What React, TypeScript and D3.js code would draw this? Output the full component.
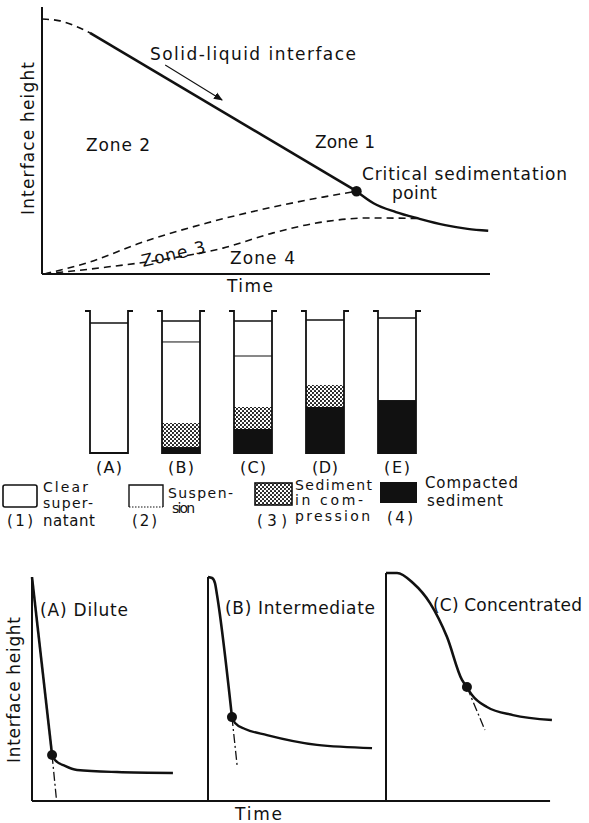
import React from 'react';
import * as d3 from 'd3';

const W = 589;
const H = 823;

// ---------- Top chart (schematic units: time 0–100, height 0–100) ----------
const initialRise: [number, number][] = [[0, 95.5], [4.0, 94.8], [7.4, 92.9], [10.7, 90.3]];
const constantRate: [number, number][] = [[10.7, 90.3], [70.2, 31.0]];
const compressionCurve: [number, number][] = [[70.2, 31.0], [74, 26.5], [79, 23.2], [84, 20.8], [90, 18.3], [95, 16.9], [99.6, 16.2]];
const zone23Boundary: [number, number][] = [[0.5, 0], [10.7, 4.5], [21.9, 11.6], [36.8, 19.1], [51.6, 25.1], [62.7, 28.8], [70.2, 31.0]];
const zone34Boundary: [number, number][] = [[0.5, 0], [14.5, 2.6], [29.2, 6.0], [40.4, 9.7], [51.6, 15.4], [62.7, 19.5], [73.2, 21.0], [84, 20.8]];
const criticalPoint: [number, number] = [70.2, 31.0];
const arrowFrom: [number, number] = [27.5, 78.3];
const arrowTo: [number, number] = [40.2, 65.2];

// ---------- Tubes (height from bottom, 0–100) ----------
const tubeNames = ['(A)', '(B)', '(C)', '(D)', '(E)'];
const liquidLevel = [91.5, 93, 93, 93.7, 95.1];
const suspensionTop: (number | null)[] = [null, 78.2, 68.3, null, null];
const compressionTop = [0, 21.1, 32.4, 47.9, 37.3];
const compactedTop = [0, 4.2, 16.9, 32.4, 37.3];

// ---------- Bottom panels ----------
const panelNames = ['(A) Dilute', '(B) Intermediate', '(C) Concentrated'];
const panelAxisTop = [98.2, 98.2, 100];
const panelBefore: [number, number][][] = [
  [[0, 98.2], [11.8, 20.2]],
  [[0, 98.2], [2.4, 97.8], [4.1, 95.6], [5.3, 90.4], [14.1, 36.8]],
  [[0, 100], [6.5, 100], [15.9, 95.6], [25.9, 86.8], [35.9, 71.9], [44.7, 53.1], [47.6, 50]],
];
const panelTangent: [number, number][][] = [
  [[11.8, 20.2], [14.4, 0.5]],
  [[14.1, 36.8], [17.1, 15.8]],
  [[47.6, 50], [58.2, 31.1]],
];
const panelAfter: [number, number][][] = [
  [[11.8, 20.2], [13.5, 18], [19.4, 15.4], [26.5, 13.6], [50, 12.7], [82.9, 12.3]],
  [[14.1, 36.8], [15.9, 34.2], [21.8, 31.6], [34.7, 28.9], [64.1, 24.6], [96.5, 23.2]],
  [[47.6, 50], [50.6, 46.5], [59.4, 41.2], [74.7, 37.7], [97.6, 35.5]],
];
const panelPoint: [number, number][] = [[11.8, 20.2], [14.1, 36.8], [47.6, 50]];

const INK = '#111';
const FONT = 'DejaVu Sans';

export default function App() {
  // top scales
  const tx = d3.scaleLinear().domain([0, 100]).range([42, 490]);
  const ty = d3.scaleLinear().domain([0, 100]).range([274, 7]);
  const topLine = d3.line<[number, number]>().x(d => tx(d[0])).y(d => ty(d[1])).curve(d3.curveMonotoneX);

  // tube scales
  const tubeX = d3.scalePoint<string>().domain(tubeNames).range([109, 397]);
  const tubeY = d3.scaleLinear().domain([0, 100]).range([453, 311]);
  const tubeHalf = 19;

  // bottom scales
  const panelX0 = [32, 208, 386];
  const pxs = panelX0.map(x0 => d3.scaleLinear().domain([0, 100]).range([x0, x0 + 170]));
  const py = d3.scaleLinear().domain([0, 100]).range([801, 573]);

  const textStyle: React.CSSProperties = { fontFamily: FONT, fill: INK };
  const LF = 14;

  return (
    <svg width={W} height={H} viewBox={`0 0 ${W} ${H}`} style={{ position: 'absolute', left: 0, top: 0, background: '#fff' }}>
      <defs>
        <pattern id="stipple" patternUnits="userSpaceOnUse" width="4" height="4">
          <rect width="4" height="4" fill="#fff" />
          <circle cx="1" cy="1" r="1.05" fill={INK} />
          <circle cx="3" cy="3" r="1.05" fill={INK} />
        </pattern>
        <marker id="arrow" viewBox="0 0 10 10" refX="9" refY="5" markerWidth="9" markerHeight="9" orient="auto" markerUnits="userSpaceOnUse">
          <path d="M0,1 L10,5 L0,9 Z" fill={INK} />
        </marker>
      </defs>
      <rect width={W} height={H} fill="#fff" />

      {/* ---------------- Top chart ---------------- */}
      <line x1={tx(0)} y1={ty(100)} x2={tx(0)} y2={ty(0)} stroke={INK} strokeWidth={2} />
      <line x1={tx(0)} y1={ty(0)} x2={tx(100)} y2={ty(0)} stroke={INK} strokeWidth={2} />

      <path d={topLine(initialRise) || ''} fill="none" stroke={INK} strokeWidth={1.6} strokeDasharray="7 5" />
      <path d={topLine(constantRate) || ''} fill="none" stroke={INK} strokeWidth={2.6} />
      <path d={topLine(compressionCurve) || ''} fill="none" stroke={INK} strokeWidth={2.4} />
      <path d={topLine(zone23Boundary) || ''} fill="none" stroke={INK} strokeWidth={1.6} strokeDasharray="7 5" />
      <path d={topLine(zone34Boundary) || ''} fill="none" stroke={INK} strokeWidth={1.6} strokeDasharray="7 5" />
      <circle cx={tx(criticalPoint[0])} cy={ty(criticalPoint[1])} r={5.2} fill={INK} />
      <line x1={tx(arrowFrom[0])} y1={ty(arrowFrom[1])} x2={tx(arrowTo[0])} y2={ty(arrowTo[1])} stroke={INK} strokeWidth={1.1} markerEnd="url(#arrow)" />

      <text x={150} y={60} fontSize={17} textLength={206} lengthAdjust="spacing" style={textStyle}>Solid-liquid interface</text>
      <text x={86} y={151} fontSize={17} textLength={64} lengthAdjust="spacing" style={textStyle}>Zone 2</text>
      <text x={315} y={148} fontSize={17} textLength={60} lengthAdjust="spacing" style={textStyle}>Zone 1</text>
      <text x={362} y={180} fontSize={17} textLength={205} lengthAdjust="spacing" style={textStyle}>Critical sedimentation</text>
      <text x={392} y={199} fontSize={17} textLength={45} lengthAdjust="spacing" style={textStyle}>point</text>
      <text transform="translate(143,267) rotate(-13)" fontSize={17} textLength={65} lengthAdjust="spacing" style={textStyle}>Zone 3</text>
      <text x={230} y={264} fontSize={17} textLength={65} lengthAdjust="spacing" style={textStyle}>Zone 4</text>
      <text transform="translate(34,215) rotate(-90)" fontSize={17} textLength={153} lengthAdjust="spacing" style={textStyle}>Interface height</text>
      <text x={227} y={292} fontSize={17} textLength={46} lengthAdjust="spacing" style={textStyle}>Time</text>

      {/* ---------------- Tubes ---------------- */}
      {tubeNames.map((name, i) => {
        const cx = tubeX(name) as number;
        const l = cx - tubeHalf;
        const r = cx + tubeHalf;
        const top = tubeY(100);
        const bot = tubeY(0);
        return (
          <g key={name}>
            {compressionTop[i] > compactedTop[i] && (
              <rect x={l} y={tubeY(compressionTop[i])} width={r - l} height={tubeY(compactedTop[i]) - tubeY(compressionTop[i])} fill="url(#stipple)" />
            )}
            {compactedTop[i] > 0 && (
              <rect x={l} y={tubeY(compactedTop[i])} width={r - l} height={bot - tubeY(compactedTop[i])} fill={INK} />
            )}
            <path d={`M${l - 5},${top} L${l},${top} L${l},${bot} L${r},${bot} L${r},${top} L${r + 5},${top}`} fill="none" stroke={INK} strokeWidth={1.8} />
            <line x1={l} x2={r} y1={tubeY(liquidLevel[i])} y2={tubeY(liquidLevel[i])} stroke={INK} strokeWidth={1.6} />
            {suspensionTop[i] !== null && (
              <line x1={l} x2={r} y1={tubeY(suspensionTop[i] as number)} y2={tubeY(suspensionTop[i] as number)} stroke={INK} strokeWidth={1} />
            )}
            <text x={cx} y={473} fontSize={16} textAnchor="middle" textLength={26} lengthAdjust="spacing" style={textStyle}>{name}</text>
          </g>
        );
      })}

      {/* ---------------- Legend ---------------- */}
      <rect x={3} y={485} width={34} height={22} rx={2} fill="#fff" stroke={INK} strokeWidth={1.6} />
      <text x={43} y={492} fontSize={LF} textLength={45} lengthAdjust="spacing" style={textStyle}>Clear</text>
      <text x={43} y={508} fontSize={LF} textLength={50} lengthAdjust="spacing" style={textStyle}>super-</text>
      <text x={43} y={526} fontSize={LF + 1} textLength={52} lengthAdjust="spacing" style={textStyle}>natant</text>
      <text x={7} y={526} fontSize={LF + 1} textLength={26} lengthAdjust="spacing" style={textStyle}>(1)</text>

      <path d="M129,507 L129,485 L163,485 L163,507" fill="none" stroke={INK} strokeWidth={1.4} />
      <line x1={129} x2={163} y1={507} y2={507} stroke={INK} strokeWidth={1.2} strokeDasharray="1.5 1.5" />
      <text x={168} y={498} fontSize={LF} textLength={65} lengthAdjust="spacing" style={textStyle}>Suspen-</text>
      <text x={172} y={513} fontSize={14} textLength={23} lengthAdjust="spacing" style={textStyle}>sion</text>
      <text x={132} y={526} fontSize={LF + 1} textLength={25} lengthAdjust="spacing" style={textStyle}>(2)</text>

      <rect x={255} y={483} width={37} height={22} fill="url(#stipple)" stroke={INK} strokeWidth={1.6} />
      <text x={295} y={490} fontSize={LF} textLength={77} lengthAdjust="spacing" style={textStyle}>Sediment</text>
      <text x={295} y={505} fontSize={LF} textLength={68} lengthAdjust="spacing" style={textStyle}>in com-</text>
      <text x={295} y={521} fontSize={LF} textLength={75} lengthAdjust="spacing" style={textStyle}>pression</text>
      <text x={257} y={526} fontSize={LF + 1} textLength={30} lengthAdjust="spacing" style={textStyle}>(3)</text>

      <rect x={380} y={482} width={37} height={21} fill={INK} />
      <text x={425} y={488} fontSize={LF + 1} textLength={93} lengthAdjust="spacing" style={textStyle}>Compacted</text>
      <text x={427} y={506} fontSize={LF + 1} textLength={76} lengthAdjust="spacing" style={textStyle}>sediment</text>
      <text x={387} y={523} fontSize={LF + 1} textLength={26} lengthAdjust="spacing" style={textStyle}>(4)</text>

      {/* ---------------- Bottom panels ---------------- */}
      <line x1={pxs[0](0)} x2={pxs[2](96.5)} y1={py(0)} y2={py(0)} stroke={INK} strokeWidth={2} />
      {panelNames.map((name, i) => {
        const xs = pxs[i];
        const ln = d3.line<[number, number]>().x(d => xs(d[0])).y(d => py(d[1])).curve(d3.curveMonotoneX);
        return (
          <g key={name}>
            <line x1={xs(0)} x2={xs(0)} y1={py(panelAxisTop[i])} y2={py(0)} stroke={INK} strokeWidth={2} />
            <path d={ln(panelBefore[i]) || ''} fill="none" stroke={INK} strokeWidth={2.6} />
            <path d={ln(panelAfter[i]) || ''} fill="none" stroke={INK} strokeWidth={2.4} />
            <path d={ln(panelTangent[i]) || ''} fill="none" stroke={INK} strokeWidth={1.3} strokeDasharray="9 3 2 3" />
            <circle cx={xs(panelPoint[i][0])} cy={py(panelPoint[i][1])} r={5} fill={INK} />
          </g>
        );
      })}
      <text x={40} y={616} fontSize={17} textLength={88} lengthAdjust="spacing" style={textStyle}>{panelNames[0]}</text>
      <text x={225} y={614} fontSize={17} textLength={150} lengthAdjust="spacing" style={textStyle}>{panelNames[1]}</text>
      <text x={433} y={611} fontSize={17} textLength={149} lengthAdjust="spacing" style={textStyle}>{panelNames[2]}</text>
      <text transform="translate(20,763) rotate(-90)" fontSize={17} textLength={146} lengthAdjust="spacing" style={textStyle}>Interface height</text>
      <text x={235} y={820} fontSize={17} textLength={47} lengthAdjust="spacing" style={textStyle}>Time</text>
    </svg>
  );
}
